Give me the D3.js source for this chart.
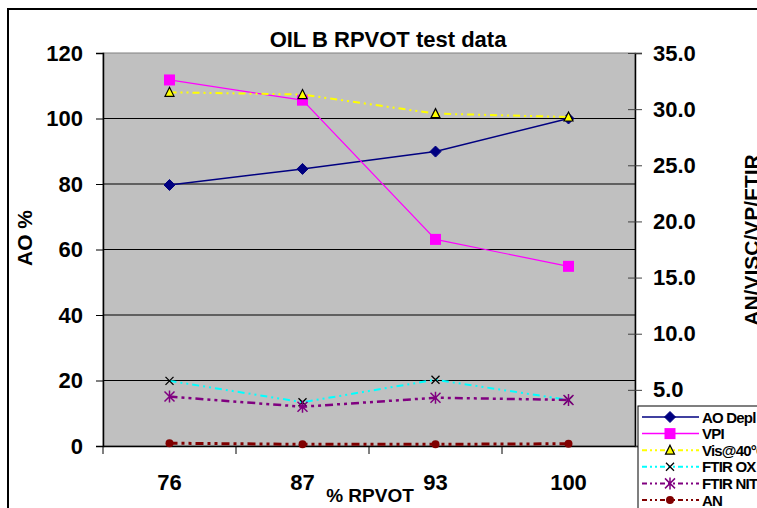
<!DOCTYPE html>
<html>
<head>
<meta charset="utf-8">
<script src="https://cdn.jsdelivr.net/npm/d3@7"></script>
<style>
  body { margin: 0; background: #fff; }
  svg { display: block; font-family: 'Liberation Sans', Arial, sans-serif; }
</style>
</head>
<body>
<svg id="chart" width="757" height="508"></svg>
<script>
// values
const rpvot = ['76', '87', '93', '100'];
const aoDepl = [79.7, 84.6, 89.9, 100];
const vpi = [32.6, 30.8, 18.4, 16.0];
const vis40 = [31.5, 31.3, 29.6, 29.3];
const ftirOx = [5.8, 3.9, 5.9, 4.1];
const ftirNit = [4.4, 3.5, 4.3, 4.1];
const an = [0.25, 0.15, 0.15, 0.2];
const leftTicks = [0, 20, 40, 60, 80, 100, 120];
const rightTicks = [0, 5, 10, 15, 20, 25, 30, 35];

const plot = { left: 103, right: 635, top: 53, bottom: 446 };

const xScale = d3.scaleBand(rpvot, [plot.left, plot.right]);
const yLeft = d3.scaleLinear([0, 120], [plot.bottom, plot.top]);
const yRight = d3.scaleLinear([0, 35], [plot.bottom, plot.top]);

const series = [
  { name: 'AO Depl', values: aoDepl, scale: yLeft, color: '#000080', width: 1.5, dash: null, marker: 'diamond' },
  { name: 'VPI', values: vpi, scale: yRight, color: '#ff00ff', width: 1.2, dash: null, marker: 'square' },
  { name: 'Vis@40°C', values: vis40, scale: yRight, color: '#ffff00', width: 2, dash: '7,4,2,4,2,4', marker: 'triangle' },
  { name: 'FTIR OX', values: ftirOx, scale: yRight, color: '#00ffff', width: 2, dash: '7,4,2,4,2,4', marker: 'x' },
  { name: 'FTIR NIT', values: ftirNit, scale: yRight, color: '#800080', width: 2.5, dash: '8,4,3,4,3,4', marker: 'star' },
  { name: 'AN', values: an, scale: yRight, color: '#800000', width: 3, dash: '8,4,3,4,3,4', marker: 'circle' },
];

const svg = d3.select('#chart');
const font = "'Liberation Sans', Arial, sans-serif";

// outer chart border
svg.append('rect')
  .attr('x', 8).attr('y', 9)
  .attr('width', 800).attr('height', 600)
  .attr('fill', '#fff')
  .attr('stroke', '#000')
  .attr('stroke-width', 2);

// plot area
svg.append('rect')
  .attr('x', plot.left).attr('y', plot.top)
  .attr('width', plot.right - plot.left).attr('height', plot.bottom - plot.top)
  .attr('fill', '#c0c0c0')
  .attr('stroke', '#808080')
  .attr('stroke-width', 1);

// gridlines
svg.append('g')
  .selectAll('line')
  .data(leftTicks.filter((d) => d > 0 && d < 120))
  .join('line')
    .attr('x1', plot.left).attr('x2', plot.right)
    .attr('y1', (d) => yLeft(d)).attr('y2', (d) => yLeft(d))
    .attr('stroke', '#000')
    .attr('stroke-width', 1);

// left axis
const leftAxis = svg.append('g')
  .attr('transform', `translate(${plot.left}, 0)`)
  .call(d3.axisLeft(yLeft).tickValues(leftTicks).tickSize(7).tickPadding(13));
leftAxis.select('.domain').attr('stroke', '#000').attr('stroke-width', 1.5);
leftAxis.selectAll('text')
  .style('font-family', font).style('font-size', '22px').style('font-weight', 'bold').attr('fill', '#000');

// right axis
const rightAxis = svg.append('g')
  .attr('transform', `translate(${plot.right}, 0)`)
  .call(d3.axisRight(yRight).tickValues(rightTicks).tickFormat(d3.format('.1f')).tickSize(7).tickPadding(11));
rightAxis.select('.domain').attr('stroke', '#000').attr('stroke-width', 1.5);
rightAxis.selectAll('.tick line').attr('x1', -7).attr('stroke', '#404040');
rightAxis.selectAll('text')
  .style('font-family', font).style('font-size', '22px').style('font-weight', 'bold').attr('fill', '#000');

// bottom axis, ticks between categories
const bottomAxis = svg.append('g')
  .attr('transform', `translate(0, ${plot.bottom})`)
  .call(d3.axisBottom(xScale).tickSizeOuter(0).tickSize(0).tickPadding(28));
bottomAxis.select('.domain').attr('stroke', '#000').attr('stroke-width', 1.5);
bottomAxis.selectAll('text')
  .style('font-family', font).style('font-size', '22px').style('font-weight', 'bold').attr('fill', '#000');
bottomAxis.selectAll('.sep')
  .data(rpvot)
  .join('line')
    .attr('class', 'sep')
    .attr('x1', (d) => xScale(d)).attr('x2', (d) => xScale(d))
    .attr('y1', 0).attr('y2', 8)
    .attr('stroke', '#000')
    .attr('stroke-width', 1);

// titles
svg.append('text')
  .text('OIL B RPVOT test data')
  .attr('x', 388).attr('y', 47)
  .attr('text-anchor', 'middle')
  .style('font-family', font).style('font-size', '22px').style('font-weight', 'bold');

svg.append('text')
  .text('% RPVOT')
  .attr('x', 370).attr('y', 502)
  .attr('text-anchor', 'middle')
  .style('font-family', font).style('font-size', '19px').style('font-weight', 'bold');

svg.append('text')
  .text('AO %')
  .attr('transform', 'translate(32, 238) rotate(-90)')
  .attr('text-anchor', 'middle')
  .style('font-family', font).style('font-size', '21px').style('font-weight', 'bold');

svg.append('text')
  .text('AN/VISC/VP/FTIR')
  .attr('transform', 'translate(759, 240) rotate(-90)')
  .attr('text-anchor', 'middle')
  .style('font-family', font).style('font-size', '21px').style('font-weight', 'bold');

// markers
function drawMarker(g, type, color) {
  if (type === 'diamond') {
    g.append('path').attr('d', 'M0,-5.5L5.5,0L0,5.5L-5.5,0Z').attr('fill', color).attr('stroke', color);
  } else if (type === 'square') {
    g.append('rect').attr('x', -5.5).attr('y', -5.5).attr('width', 11).attr('height', 11).attr('fill', color);
  } else if (type === 'triangle') {
    g.append('path').attr('d', 'M0,-5L4.5,4L-4.5,4Z').attr('fill', color).attr('stroke', '#000').attr('stroke-width', 1.2);
  } else if (type === 'x') {
    g.append('path').attr('d', 'M-4,-4L4,4M-4,4L4,-4').attr('stroke', '#000').attr('stroke-width', 1.3);
  } else if (type === 'star') {
    g.append('path').attr('d', 'M-5,-5L5,5M-5,5L5,-5M0,-6L0,6').attr('stroke', color).attr('stroke-width', 1.5);
  } else if (type === 'circle') {
    g.append('circle').attr('r', 4).attr('fill', color);
  }
}

const line = d3.line().x((d) => d.x).y((d) => d.y);

series.forEach((s) => {
  const pts = s.values.map((v, i) => ({ x: xScale(rpvot[i]) + xScale.bandwidth() / 2, y: s.scale(v) }));
  svg.append('path')
    .datum(pts)
    .attr('d', line)
    .attr('fill', 'none')
    .attr('stroke', s.color)
    .attr('stroke-width', s.width)
    .attr('stroke-dasharray', s.dash);
  pts.forEach((p) => {
    const g = svg.append('g').attr('transform', `translate(${p.x}, ${p.y})`);
    drawMarker(g, s.marker, s.color);
  });
});

// legend
const legend = svg.append('g').attr('transform', 'translate(638, 406)');
legend.append('rect')
  .attr('x', 0).attr('y', 0)
  .attr('width', 140).attr('height', 120)
  .attr('fill', '#fff')
  .attr('stroke', '#000')
  .attr('stroke-width', 1);

series.forEach((s, i) => {
  const y = 11 + i * 16.6;
  legend.append('line')
    .attr('x1', 4).attr('x2', 61)
    .attr('y1', y).attr('y2', y)
    .attr('stroke', s.color)
    .attr('stroke-width', s.marker === 'diamond' || s.marker === 'square' ? 1.5 : 2)
    .attr('stroke-dasharray', s.dash ? '5,3,2,3,2,3' : null);
  const g = legend.append('g').attr('transform', `translate(32, ${y})`);
  drawMarker(g, s.marker, s.color);
  legend.append('text')
    .text(s.name)
    .attr('x', 64).attr('y', y)
    .attr('dominant-baseline', 'central')
    .style('font-family', font).style('font-size', '15px').style('font-weight', 'bold')
    .style('letter-spacing', '-0.8px');
});
</script>
</body>
</html>
